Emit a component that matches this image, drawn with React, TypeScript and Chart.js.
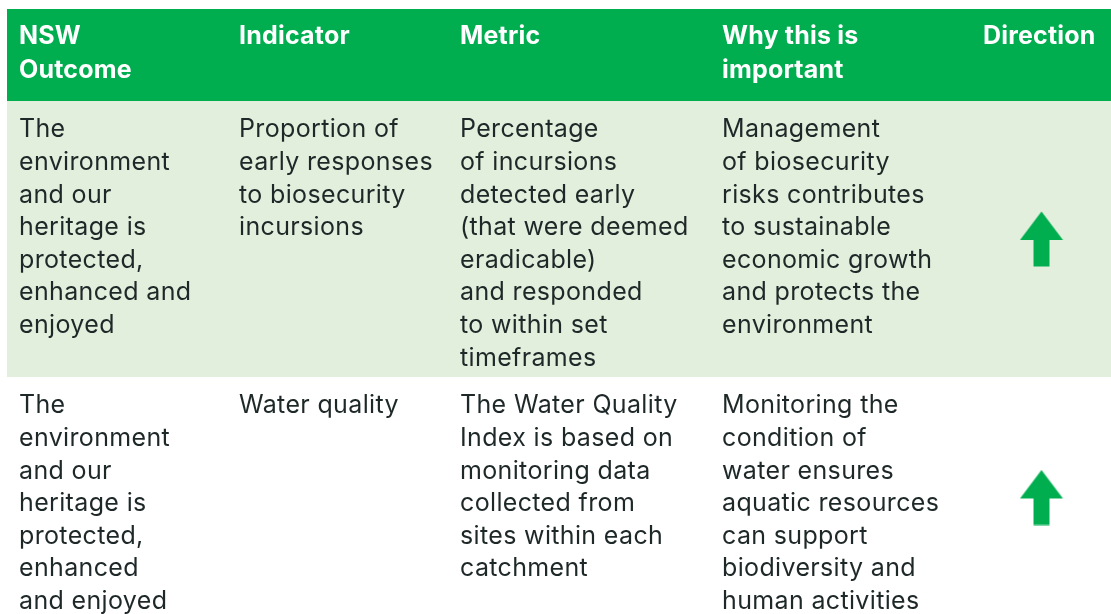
import React, { useEffect, useRef } from "react";
import { Chart, registerables } from "chart.js";

Chart.register(...registerables);

// ---- table content ----
const headers: string[] = ["NSW\nOutcome", "Indicator", "Metric", "Why this is\nimportant", "Direction"];
const outcomes: string[] = [
  "The\nenvironment\nand our\nheritage is\nprotected,\nenhanced and\nenjoyed",
  "The\nenvironment\nand our\nheritage is\nprotected,\nenhanced\nand enjoyed",
];
const indicators: string[] = [
  "Proportion of\nearly responses\nto biosecurity\nincursions",
  "Water quality",
];
const metrics: string[] = [
  "Percentage\nof incursions\ndetected early\n(that were deemed\neradicable)\nand responded\nto within set\ntimeframes",
  "The Water Quality\nIndex is based on\nmonitoring data\ncollected from\nsites within each\ncatchment",
];
const reasons: string[] = [
  "Management\nof biosecurity\nrisks contributes\nto sustainable\neconomic growth\nand protects the\nenvironment",
  "Monitoring the\ncondition of\nwater ensures\naquatic resources\ncan support\nbiodiversity and\nhuman activities",
];
const directions: string[] = ["up", "up"];

// ---- layout (pixel units of the linear scales) ----
const W = 1111;
const H = 614;
const TABLE_LEFT = 7;
const COL_TEXT_X = [19, 239, 460, 722, 983];
const DIR_COL_CENTER = 1041.5;
const HEADER_TOP = 9;
const ROW_EDGES = [101, 377, 618];
const ROW_FILLS = ["#e3efdd", "#ffffff"];
const GREEN = "#00ae50";
const TEXT = "#1f2828";
const BODY_FONT = "25px Inter";
const HEAD_FONT = "bold 25px Inter";
const BODY_SPACING = "0.35px";
const HEAD_SPACING = "0.2px";
const LINE_H = 32.6;
const HEAD_LINE_H = 33.4;
const FIRST_BASELINE = 36.4;
const HEAD_BASELINE = 35.3;

function makeArrow(): HTMLCanvasElement {
  const c = document.createElement("canvas");
  c.width = 44;
  c.height = 56;
  const g = c.getContext("2d")!;
  g.fillStyle = GREEN;
  g.beginPath();
  g.moveTo(22, 0.5);
  g.lineTo(43.5, 29);
  g.lineTo(30, 29);
  g.lineTo(30, 55.5);
  g.lineTo(14, 55.5);
  g.lineTo(14, 29);
  g.lineTo(0.5, 29);
  g.closePath();
  g.fill();
  return c;
}

export default function App() {
  const ref = useRef<HTMLCanvasElement | null>(null);

  useEffect(() => {
    const canvas = ref.current;
    if (!canvas) return;
    const arrow = makeArrow();
    const rowCols = [outcomes, indicators, metrics, reasons];

    const tablePlugin = {
      id: "tablePlugin",
      beforeDatasetsDraw(chart: any) {
        const ctx = chart.ctx;
        const xs = chart.scales.x;
        const ys = chart.scales.y;
        ctx.save();
        const hx = xs.getPixelForValue(TABLE_LEFT);
        const hr = xs.getPixelForValue(W);
        const hy = ys.getPixelForValue(HEADER_TOP);
        ctx.fillStyle = GREEN;
        ctx.fillRect(hx, hy, hr - hx, ys.getPixelForValue(ROW_EDGES[0]) - hy);
        for (let r = 0; r < ROW_EDGES.length - 1; r++) {
          ctx.fillStyle = ROW_FILLS[r];
          const y0 = ys.getPixelForValue(ROW_EDGES[r]);
          const y1 = ys.getPixelForValue(ROW_EDGES[r + 1]);
          ctx.fillRect(hx, y0, hr - hx, y1 - y0);
        }
        ctx.fillStyle = "#ffffff";
        ctx.font = HEAD_FONT;
        (ctx as any).letterSpacing = HEAD_SPACING;
        ctx.textBaseline = "alphabetic";
        headers.forEach((h, c) => {
          h.split("\n").forEach((line, i) => {
            ctx.fillText(
              line,
              xs.getPixelForValue(COL_TEXT_X[c]),
              ys.getPixelForValue(HEADER_TOP + HEAD_BASELINE + i * HEAD_LINE_H)
            );
          });
        });
        ctx.fillStyle = TEXT;
        ctx.font = BODY_FONT;
        (ctx as any).letterSpacing = BODY_SPACING;
        for (let r = 0; r < outcomes.length; r++) {
          rowCols.forEach((col, c) => {
            col[r].split("\n").forEach((line, i) => {
              ctx.fillText(
                line,
                xs.getPixelForValue(COL_TEXT_X[c]),
                ys.getPixelForValue(ROW_EDGES[r] + FIRST_BASELINE + i * LINE_H)
              );
            });
          });
        }
        (ctx as any).letterSpacing = "0px";
        ctx.restore();
      },
    };

    const chart = new Chart(canvas, {
      type: "scatter",
      data: {
        datasets: [
          {
            label: "Direction",
            data: directions.map((d, r) => ({
              x: DIR_COL_CENTER,
              y: (ROW_EDGES[r] + ROW_EDGES[r + 1]) / 2,
            })),
            pointStyle: directions.map(() => arrow) as any,
            pointRadius: 22,
            clip: false as any,
          },
        ],
      },
      options: {
        animation: false,
        responsive: false,
        devicePixelRatio: 1,
        layout: { padding: 0, autoPadding: false },
        plugins: { legend: { display: false }, tooltip: { enabled: false } },
        scales: {
          x: { type: "linear", min: 0, max: W, display: false },
          y: { type: "linear", min: 0, max: H, reverse: true, display: false },
        },
      },
      plugins: [tablePlugin],
    });
    return () => chart.destroy();
  }, []);

  return (
    <div style={{ position: "fixed", left: 0, top: 0, width: W, height: H, background: "#fff" }}>
      <canvas ref={ref} width={W} height={H} style={{ display: "block" }} />
    </div>
  );
}
